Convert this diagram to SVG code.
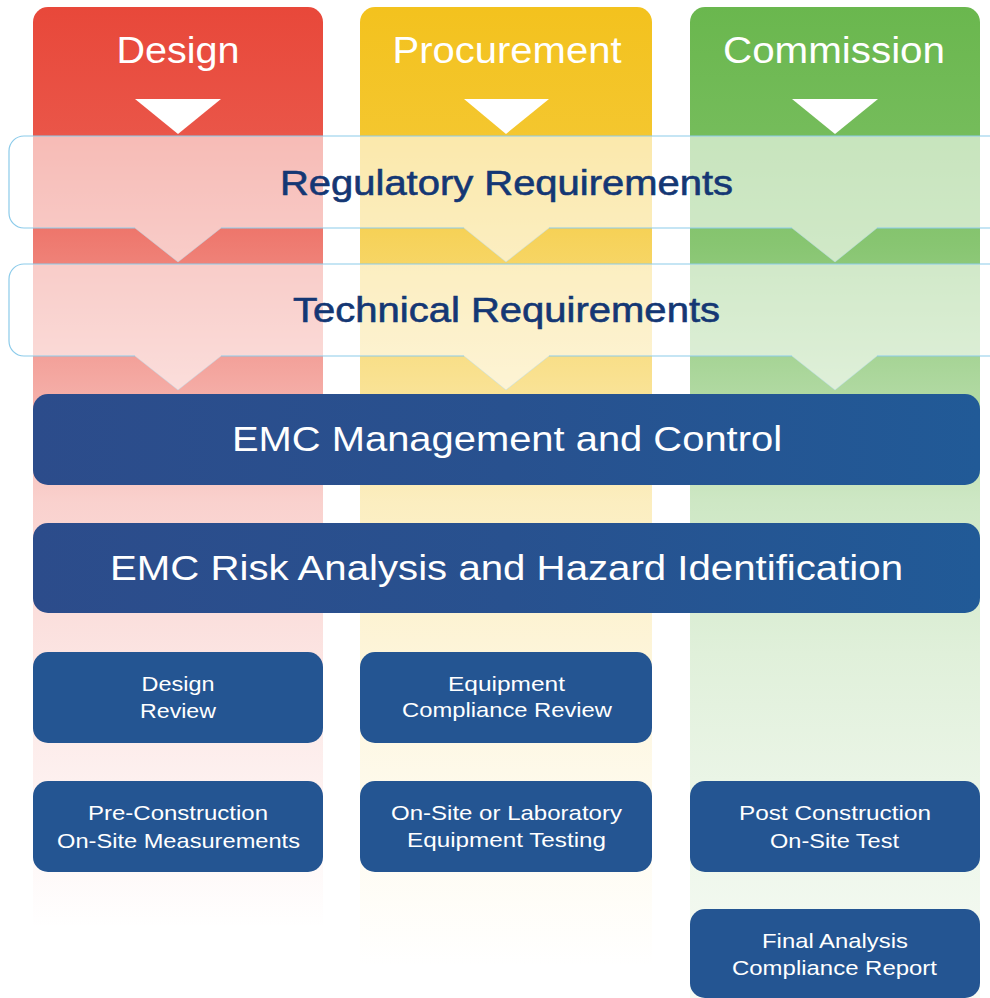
<svg xmlns="http://www.w3.org/2000/svg" width="990" height="998" viewBox="0 0 990 998">
<defs>
<linearGradient id="gRed" gradientUnits="userSpaceOnUse" x1="0" y1="7" x2="0" y2="998">
<stop offset="0" stop-color="#e8483a" stop-opacity="1"/>
<stop offset="0.125" stop-color="#e8483a" stop-opacity="0.93"/>
<stop offset="0.24" stop-color="#e8483a" stop-opacity="0.72"/>
<stop offset="0.5" stop-color="#e8483a" stop-opacity="0.25"/>
<stop offset="0.65" stop-color="#e8483a" stop-opacity="0.15"/>
<stop offset="0.8" stop-color="#e8483a" stop-opacity="0.07"/>
<stop offset="0.93" stop-color="#e8483a" stop-opacity="0"/>
</linearGradient>
<linearGradient id="gYel" gradientUnits="userSpaceOnUse" x1="0" y1="7" x2="0" y2="998">
<stop offset="0" stop-color="#f3c21e" stop-opacity="1"/>
<stop offset="0.125" stop-color="#f3c21e" stop-opacity="0.93"/>
<stop offset="0.24" stop-color="#f3c21e" stop-opacity="0.72"/>
<stop offset="0.5" stop-color="#f3c21e" stop-opacity="0.28"/>
<stop offset="0.65" stop-color="#f3c21e" stop-opacity="0.17"/>
<stop offset="0.8" stop-color="#f3c21e" stop-opacity="0.08"/>
<stop offset="0.97" stop-color="#f3c21e" stop-opacity="0"/>
</linearGradient>
<linearGradient id="gGrn" gradientUnits="userSpaceOnUse" x1="0" y1="7" x2="0" y2="998">
<stop offset="0" stop-color="#6ab74e" stop-opacity="1"/>
<stop offset="0.125" stop-color="#6ab74e" stop-opacity="0.93"/>
<stop offset="0.24" stop-color="#6ab74e" stop-opacity="0.8"/>
<stop offset="0.5" stop-color="#6ab74e" stop-opacity="0.33"/>
<stop offset="0.65" stop-color="#6ab74e" stop-opacity="0.21"/>
<stop offset="0.8" stop-color="#6ab74e" stop-opacity="0.13"/>
<stop offset="1" stop-color="#6ab74e" stop-opacity="0.06"/>
</linearGradient>
<linearGradient id="gBar" x1="0" y1="0" x2="1" y2="0">
<stop offset="0" stop-color="#2c4c8b"/>
<stop offset="0.5" stop-color="#28518f"/>
<stop offset="1" stop-color="#215a97"/>
</linearGradient>
</defs>
<style>
.hdr{font-family:"Liberation Sans",Arial,sans-serif;font-size:36px;fill:#ffffff;text-anchor:middle}
.band{fill:#ffffff;fill-opacity:0.6}
.bandline{fill:none;stroke:#8ccbea;stroke-width:1.2}
.ptrline{fill:none;stroke:#b8ddef;stroke-width:1;stroke-opacity:0.5}
.btxt{font-family:"Liberation Sans",Arial,sans-serif;font-size:35px;fill:#143774;stroke:#143774;stroke-width:0.6;text-anchor:middle}
.bar{fill:url(#gBar)}
.bartxt{font-family:"Liberation Sans",Arial,sans-serif;font-size:35px;fill:#ffffff;text-anchor:middle}
.box{fill:#245592}
.boxtxt{font-family:"Liberation Sans",Arial,sans-serif;font-size:21px;fill:#ffffff;text-anchor:middle}
.tri{fill:#ffffff}
</style>

<g id="col-design">
<path d="M33,22 a15,15 0 0 1 15,-15 h260 a15,15 0 0 1 15,15 V998 H33 Z" fill="url(#gRed)"/>
<text class="hdr" x="178" y="63" textLength="123" lengthAdjust="spacingAndGlyphs">Design</text>
</g>
<g id="col-procurement">
<path d="M360,22 a15,15 0 0 1 15,-15 h262 a15,15 0 0 1 15,15 V998 H360 Z" fill="url(#gYel)"/>
<text class="hdr" x="507" y="63" textLength="229" lengthAdjust="spacingAndGlyphs">Procurement</text>
</g>
<g id="col-commission">
<path d="M690,22 a15,15 0 0 1 15,-15 h260 a15,15 0 0 1 15,15 V998 H690 Z" fill="url(#gGrn)"/>
<text class="hdr" x="834" y="63" textLength="222" lengthAdjust="spacingAndGlyphs">Commission</text>
</g>

<g id="connectors">
<polygon class="tri" points="135,99 221,99 178,134"/>
<polygon class="tri" points="464,99 549,99 506,134"/>
<polygon class="tri" points="792,99 878,99 835,134"/>
</g>

<g id="band-regulatory">
<path class="band" d="M24,136 H990 V228 H877 L835,262 L792,228 H549 L506,262 L464,228 H221 L178,262 L135,228 H24 a15,15 0 0 1 -15,-15 V151 a15,15 0 0 1 15,-15 Z"/>
<path class="bandline" d="M990,136 H24 a15,15 0 0 0 -15,15 V213 a15,15 0 0 0 15,15 H135 M221,228 H464 M549,228 H792 M877,228 H990"/>
<path class="ptrline" d="M135,228 L178,262 L221,228 M464,228 L506,262 L549,228 M792,228 L835,262 L877,228"/>
<text class="btxt" x="506.5" y="195" textLength="453" lengthAdjust="spacingAndGlyphs">Regulatory Requirements</text>
</g>

<g id="band-technical">
<path class="band" d="M24,264 H990 V356 H877 L835,390 L792,356 H549 L506,390 L464,356 H221 L178,390 L135,356 H24 a15,15 0 0 1 -15,-15 V279 a15,15 0 0 1 15,-15 Z"/>
<path class="bandline" d="M990,264 H24 a15,15 0 0 0 -15,15 V341 a15,15 0 0 0 15,15 H135 M221,356 H464 M549,356 H792 M877,356 H990"/>
<path class="ptrline" d="M135,356 L178,390 L221,356 M464,356 L506,390 L549,356 M792,356 L835,390 L877,356"/>
<text class="btxt" x="506.5" y="322" textLength="427" lengthAdjust="spacingAndGlyphs">Technical Requirements</text>
</g>

<g id="emc-management">
<rect class="bar" x="33" y="394" width="947" height="91" rx="15"/>
<text class="bartxt" x="507" y="451" textLength="550" lengthAdjust="spacingAndGlyphs">EMC Management and Control</text>
</g>

<g id="emc-risk">
<rect class="bar" x="33" y="523" width="947" height="90" rx="15"/>
<text class="bartxt" x="506.5" y="580" textLength="793" lengthAdjust="spacingAndGlyphs">EMC Risk Analysis and Hazard Identification</text>
</g>

<g id="design-review">
<rect class="box" x="33" y="652" width="290" height="91" rx="15"/>
<text class="boxtxt" x="178" y="691" textLength="73" lengthAdjust="spacingAndGlyphs">Design</text>
<text class="boxtxt" x="178" y="718" textLength="76" lengthAdjust="spacingAndGlyphs">Review</text>
</g>

<g id="equipment-compliance-review">
<rect class="box" x="360" y="652" width="292" height="91" rx="15"/>
<text class="boxtxt" x="506.5" y="691" textLength="117" lengthAdjust="spacingAndGlyphs">Equipment</text>
<text class="boxtxt" x="507" y="717" textLength="210" lengthAdjust="spacingAndGlyphs">Compliance Review</text>
</g>

<g id="pre-construction">
<rect class="box" x="33" y="781" width="290" height="91" rx="15"/>
<text class="boxtxt" x="178" y="820" textLength="180" lengthAdjust="spacingAndGlyphs">Pre-Construction</text>
<text class="boxtxt" x="178.5" y="848" textLength="243" lengthAdjust="spacingAndGlyphs">On-Site Measurements</text>
</g>

<g id="equipment-testing">
<rect class="box" x="360" y="781" width="292" height="91" rx="15"/>
<text class="boxtxt" x="506.5" y="820" textLength="231" lengthAdjust="spacingAndGlyphs">On-Site or Laboratory</text>
<text class="boxtxt" x="506.5" y="847" textLength="199" lengthAdjust="spacingAndGlyphs">Equipment Testing</text>
</g>

<g id="post-construction">
<rect class="box" x="690" y="781" width="290" height="91" rx="15"/>
<text class="boxtxt" x="835" y="820" textLength="192" lengthAdjust="spacingAndGlyphs">Post Construction</text>
<text class="boxtxt" x="834.5" y="848" textLength="129" lengthAdjust="spacingAndGlyphs">On-Site Test</text>
</g>

<g id="final-analysis">
<rect class="box" x="690" y="909" width="290" height="89" rx="15"/>
<text class="boxtxt" x="835" y="948" textLength="146" lengthAdjust="spacingAndGlyphs">Final Analysis</text>
<text class="boxtxt" x="834.5" y="975" textLength="205" lengthAdjust="spacingAndGlyphs">Compliance Report</text>
</g>
</svg>
